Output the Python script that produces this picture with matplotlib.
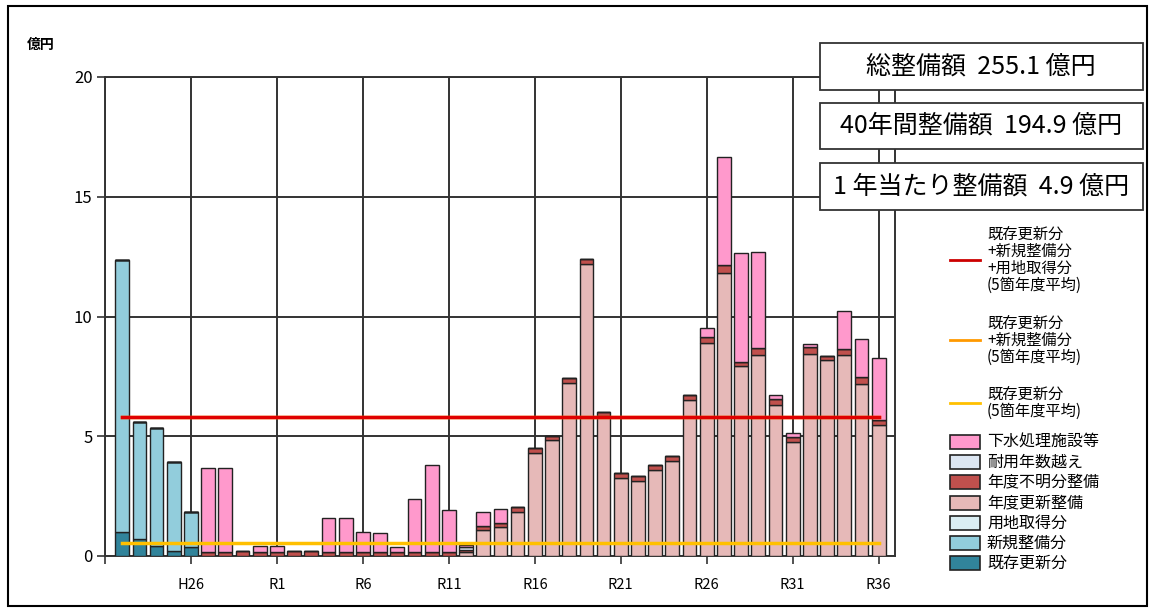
import matplotlib
matplotlib.use("Agg")
import matplotlib.pyplot as plt
from matplotlib.patches import Rectangle
from matplotlib.lines import Line2D

plt.rcParams['font.family'] = ['Noto Sans CJK JP', 'DejaVu Sans']

years = ['H22', 'H23', 'H24', 'H25', 'H26', 'H27', 'H28', 'H29', 'H30'] + ['R%d' % i for i in range(1, 37)]
tick_years = ['H26', 'R1', 'R6', 'R11', 'R16', 'R21', 'R26', 'R31', 'R36']

# 億円
kizon = [1.0, 0.7, 0.43, 0.22, 0.39] + [0] * 40
shinki = [11.36, 4.91, 4.93, 3.69, 1.46] + [0] * 40
youchi = [0] * 45
koushin = [0] * 20 + [0.15, 1.1, 1.22, 1.85, 4.29, 4.85, 7.21, 12.2, 5.85, 3.24, 3.15, 3.59, 3.98,
                      6.52, 8.88, 11.83, 7.94, 8.4, 6.31, 4.78, 8.44, 8.19, 8.4, 7.18, 5.47]
fumei = [0] * 5 + [0.15, 0.15, 0.2, 0.15, 0.15, 0.2, 0.2, 0.15, 0.15, 0.15, 0.15, 0.15, 0.15, 0.15, 0.15,
                   0.12, 0.15, 0.17, 0.2, 0.21, 0.18, 0.21, 0.19, 0.18, 0.21, 0.19, 0.21, 0.2, 0.21,
                   0.25, 0.3, 0.18, 0.28, 0.25, 0.2, 0.3, 0.18, 0.23, 0.28, 0.21]
taiyou = [0] * 20 + [0.1] + [0] * 24
gesui = [0] * 5 + [3.51, 3.51, 0, 0.28, 0.28, 0, 0, 1.45, 1.45, 0.85, 0.8, 0.23, 2.24, 3.66, 1.76,
                   0.09, 0.6, 0.57, 0, 0, 0, 0, 0, 0, 0, 0, 0, 0, 0,
                   0.41, 4.51, 4.55, 4.03, 0.17, 0.17, 0.12, 0, 1.6, 1.6, 2.6]

avg_all = 5.82      # 既存更新分+新規整備分+用地取得分
avg_new = 5.82      # 既存更新分+新規整備分
avg_kizon = 0.55    # 既存更新分

series = [
    ('既存更新分', kizon, '#31849B'),
    ('新規整備分', shinki, '#92CDDC'),
    ('用地取得分', youchi, '#DAEEF3'),
    ('年度更新整備', koushin, '#E6B9B8'),
    ('年度不明分整備', fumei, '#C0504D'),
    ('耐用年数越え', taiyou, '#DCE6F2'),
    ('下水処理施設等', gesui, '#FF99CC'),
]


def main():
    fig = plt.figure(figsize=(11.53, 6.12), dpi=100)
    ax = fig.add_axes([105 / 1153, 1 - 556 / 612, 790 / 1153, 479 / 612])

    x = list(range(len(years)))
    bottom = [0.0] * len(years)
    for name, vals, col in series:
        ax.bar(x, vals, 0.8, bottom=bottom, color=col, edgecolor='#222222', linewidth=1.0, zorder=3)
        bottom = [b + v for b, v in zip(bottom, vals)]

    ax.plot([0, len(years) - 1], [avg_new, avg_new], color='#FF9900', lw=2.5, zorder=4)
    ax.plot([0, len(years) - 1], [avg_all, avg_all], color='#E00000', lw=2.5, zorder=5)
    ax.plot([0, len(years) - 1], [avg_kizon, avg_kizon], color='#FFC000', lw=2.5, zorder=5)

    ax.set_xlim(-1, 44.95)
    ax.set_ylim(0, 20)
    ticks = [-1] + [years.index(t) for t in tick_years]
    ax.set_xticks(ticks)
    ax.set_xticklabels([''] + tick_years, fontsize=10.5)
    ax.set_yticks([0, 5, 10, 15, 20])
    ax.set_yticklabels(['0', '5', '10', '15', '20'], fontsize=12)
    ax.tick_params(axis='x', length=6, width=1.2, color='#333333', pad=10)
    ax.tick_params(axis='y', length=6, width=1.2, color='#333333', pad=3)
    ax.grid(True, color='#333333', linewidth=1.4, zorder=0)
    ax.set_axisbelow(True)
    for s in ax.spines.values():
        s.set_color('#333333')
        s.set_linewidth(1.4)

    fig.text(27 / 1153, 1 - 45 / 612, '億円', fontsize=10, fontweight='bold', va='center')

    # summary boxes
    boxes = [(43, 90, '総整備額  255.1 億円'),
             (103, 149, '40年間整備額  194.9 億円'),
             (163, 210, '1 年当たり整備額  4.9 億円')]
    for top, bot, txt in boxes:
        fig.add_artist(Rectangle((820 / 1153, 1 - bot / 612), 323 / 1153, (bot - top) / 612,
                                 transform=fig.transFigure, facecolor='white', edgecolor='#333333',
                                 linewidth=1.3, zorder=10))
        fig.text(981 / 1153, 1 - (top + bot) / 2 / 612, txt, fontsize=18, ha='center', va='center', zorder=11)

    # legend
    line_items = [(260, '#CC0000', '既存更新分\n+新規整備分\n+用地取得分\n(5箇年度平均)'),
                  (340, '#FF9900', '既存更新分\n+新規整備分\n(5箇年度平均)'),
                  (403, '#FFC000', '既存更新分\n(5箇年度平均)')]
    for y, col, txt in line_items:
        fig.add_artist(Line2D([950 / 1153, 980 / 1153], [1 - y / 612, 1 - y / 612],
                              transform=fig.transFigure, color=col, lw=2))
        fig.text(987 / 1153, 1 - y / 612, txt, fontsize=11, va='center', linespacing=1.0)

    patch_y = 442
    for name, vals, col in reversed(series):
        fig.add_artist(Rectangle((950 / 1153, 1 - (patch_y + 7) / 612), 30 / 1153, 14 / 612,
                                 transform=fig.transFigure, facecolor=col, edgecolor='#222222', linewidth=1.2))
        fig.text(987 / 1153, 1 - patch_y / 612, name, fontsize=11.5, va='center')
        patch_y += 20.2

    fig.add_artist(Rectangle((8 / 1153, 6 / 612), 1139 / 1153, 600 / 612, transform=fig.transFigure,
                             fill=False, edgecolor='black', linewidth=1.5))

    fig.savefig('out.png', dpi=100)


if __name__ == "__main__":
    main()
